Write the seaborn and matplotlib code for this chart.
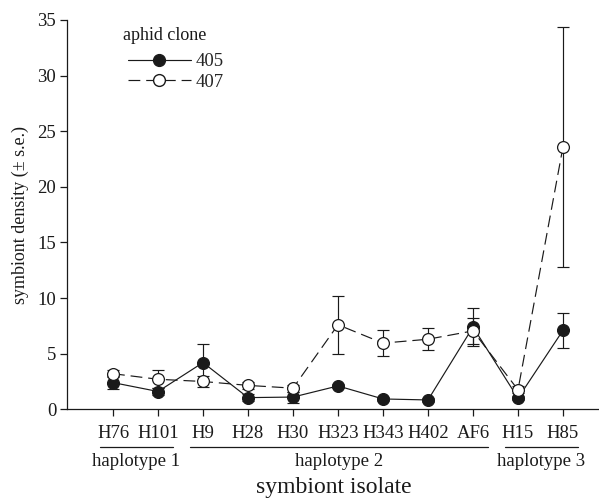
import numpy as np
import pandas as pd
import matplotlib
matplotlib.use("Agg")
import matplotlib.pyplot as plt
import matplotlib.transforms as mtransforms
from matplotlib.lines import Line2D
import seaborn as sns

# ---- data ----
isolates = ["H76", "H101", "H9", "H28", "H30", "H323", "H343", "H402", "AF6", "H15", "H85"]
clone_405 = [2.4, 1.6, 4.2, 1.05, 1.1, 2.1, 0.93, 0.84, 7.4, 1.0, 7.1]
se_405 = [0.6, 0.3, 1.7, 0.3, 0.5, 0.2, 0.15, 0.15, 1.7, 0.2, 1.55]
clone_407 = [3.2, 2.7, 2.5, 2.15, 1.9, 7.6, 5.95, 6.3, 7.05, 1.75, 23.6]
se_407 = [0.3, 0.8, 0.5, 0.3, 0.3, 2.6, 1.2, 1.0, 1.2, 0.3, 10.8]
groups = ["haplotype 1", "haplotype 2", "haplotype 3"]
group_members = [["H76", "H101"],
                 ["H9", "H28", "H30", "H323", "H343", "H402", "AF6"],
                 ["H15", "H85"]]
y_ticks = [0, 5, 10, 15, 20, 25, 30, 35]

sns.set_style("ticks")
plt.rcParams["font.family"] = ["Liberation Serif", "DejaVu Serif"]
ink = "#1a1a1a"

pos = list(range(len(isolates)))
df = pd.DataFrame({
    "isolate": isolates * 2,
    "pos": pos * 2,
    "density": clone_405 + clone_407,
    "se": se_405 + se_407,
    "clone": ["405"] * len(isolates) + ["407"] * len(isolates),
})

fig = plt.figure(figsize=(5.99, 5.01), dpi=100)
ax = fig.add_axes([67.3 / 599, 1 - 409.3 / 501, (599 - 67.3) / 599, 389.3 / 501])

lw = 0.85
for clone, dashes, mfc, z in [("405", "", ink, 3), ("407", (10, 5), "white", 4)]:
    sub = df[df["clone"] == clone]
    ax.errorbar(sub["pos"], sub["density"], yerr=sub["se"], fmt="none",
                ecolor=ink, elinewidth=lw, capsize=4.5, capthick=lw, zorder=z - 0.5)
    sns.lineplot(data=sub, x="pos", y="density", ax=ax, color=ink, lw=lw,
                 marker="o", markersize=8.5, markerfacecolor=mfc,
                 markeredgecolor=ink, markeredgewidth=0.9,
                 dashes=False, zorder=z, legend=False, errorbar=None)
    if dashes:
        ax.lines[-1].set_dashes(dashes)

ax.set_xlim(-1.016, 10.8)
ax.set_ylim(0, 35)
ax.set_yticks(y_ticks)
ax.set_yticklabels([str(t) for t in y_ticks], fontsize=13.5)
ax.set_xticks(pos)
ax.set_xticklabels(isolates, fontsize=13.5)
ax.tick_params(axis="both", direction="out", length=5, width=0.9, color=ink, labelcolor=ink)
ax.tick_params(axis="x", pad=6)
ax.tick_params(axis="y", pad=3)
for s in ["top", "right"]:
    ax.spines[s].set_visible(False)
for s in ["left", "bottom"]:
    ax.spines[s].set_linewidth(0.9)
    ax.spines[s].set_color(ink)

ax.set_xlabel("")
ax.set_ylabel("symbiont density (± s.e.)", fontsize=13, color=ink)
ax.yaxis.set_label_coords(-0.072, 0.5)

# group annotations
trans = mtransforms.blended_transform_factory(ax.transData, ax.transAxes)
for g, members in zip(groups, group_members):
    i0 = isolates.index(members[0])
    i1 = isolates.index(members[-1])
    ax.plot([i0 - 0.29, i1 + 0.33], [-0.097, -0.097], transform=trans,
            color=ink, lw=0.9, clip_on=False)
    ax.text((i0 - 0.29 + i1 + 0.33) / 2, -0.135, g, transform=trans,
            ha="center", va="center", fontsize=13.5, color=ink)

fig.text(334 / 599, 1 - 487 / 501, "symbiont isolate",
         ha="center", va="center", fontsize=17, color=ink)

# legend
ax.text(0.104, 1 - (35 - 20) / 389.3, "aphid clone", transform=ax.transAxes,
        ha="left", va="center", fontsize=13, color=ink)
handles = [
    Line2D([], [], color=ink, lw=lw, marker="o", markersize=8.5,
           markerfacecolor=ink, markeredgecolor=ink),
    Line2D([], [], color=ink, lw=lw, marker="o", markersize=8.5, dashes=(10, 5),
           markerfacecolor="white", markeredgecolor=ink),
]
leg = ax.legend(handles, ["405", "407"], frameon=False,
                loc="upper left", bbox_to_anchor=(0.114, 1 - (53 - 20) / 389.3),
                fontsize=13.5, handlelength=3.35, handletextpad=0.27,
                labelspacing=0.19, borderaxespad=0, borderpad=0)

fig.savefig("out.png", dpi=100)
